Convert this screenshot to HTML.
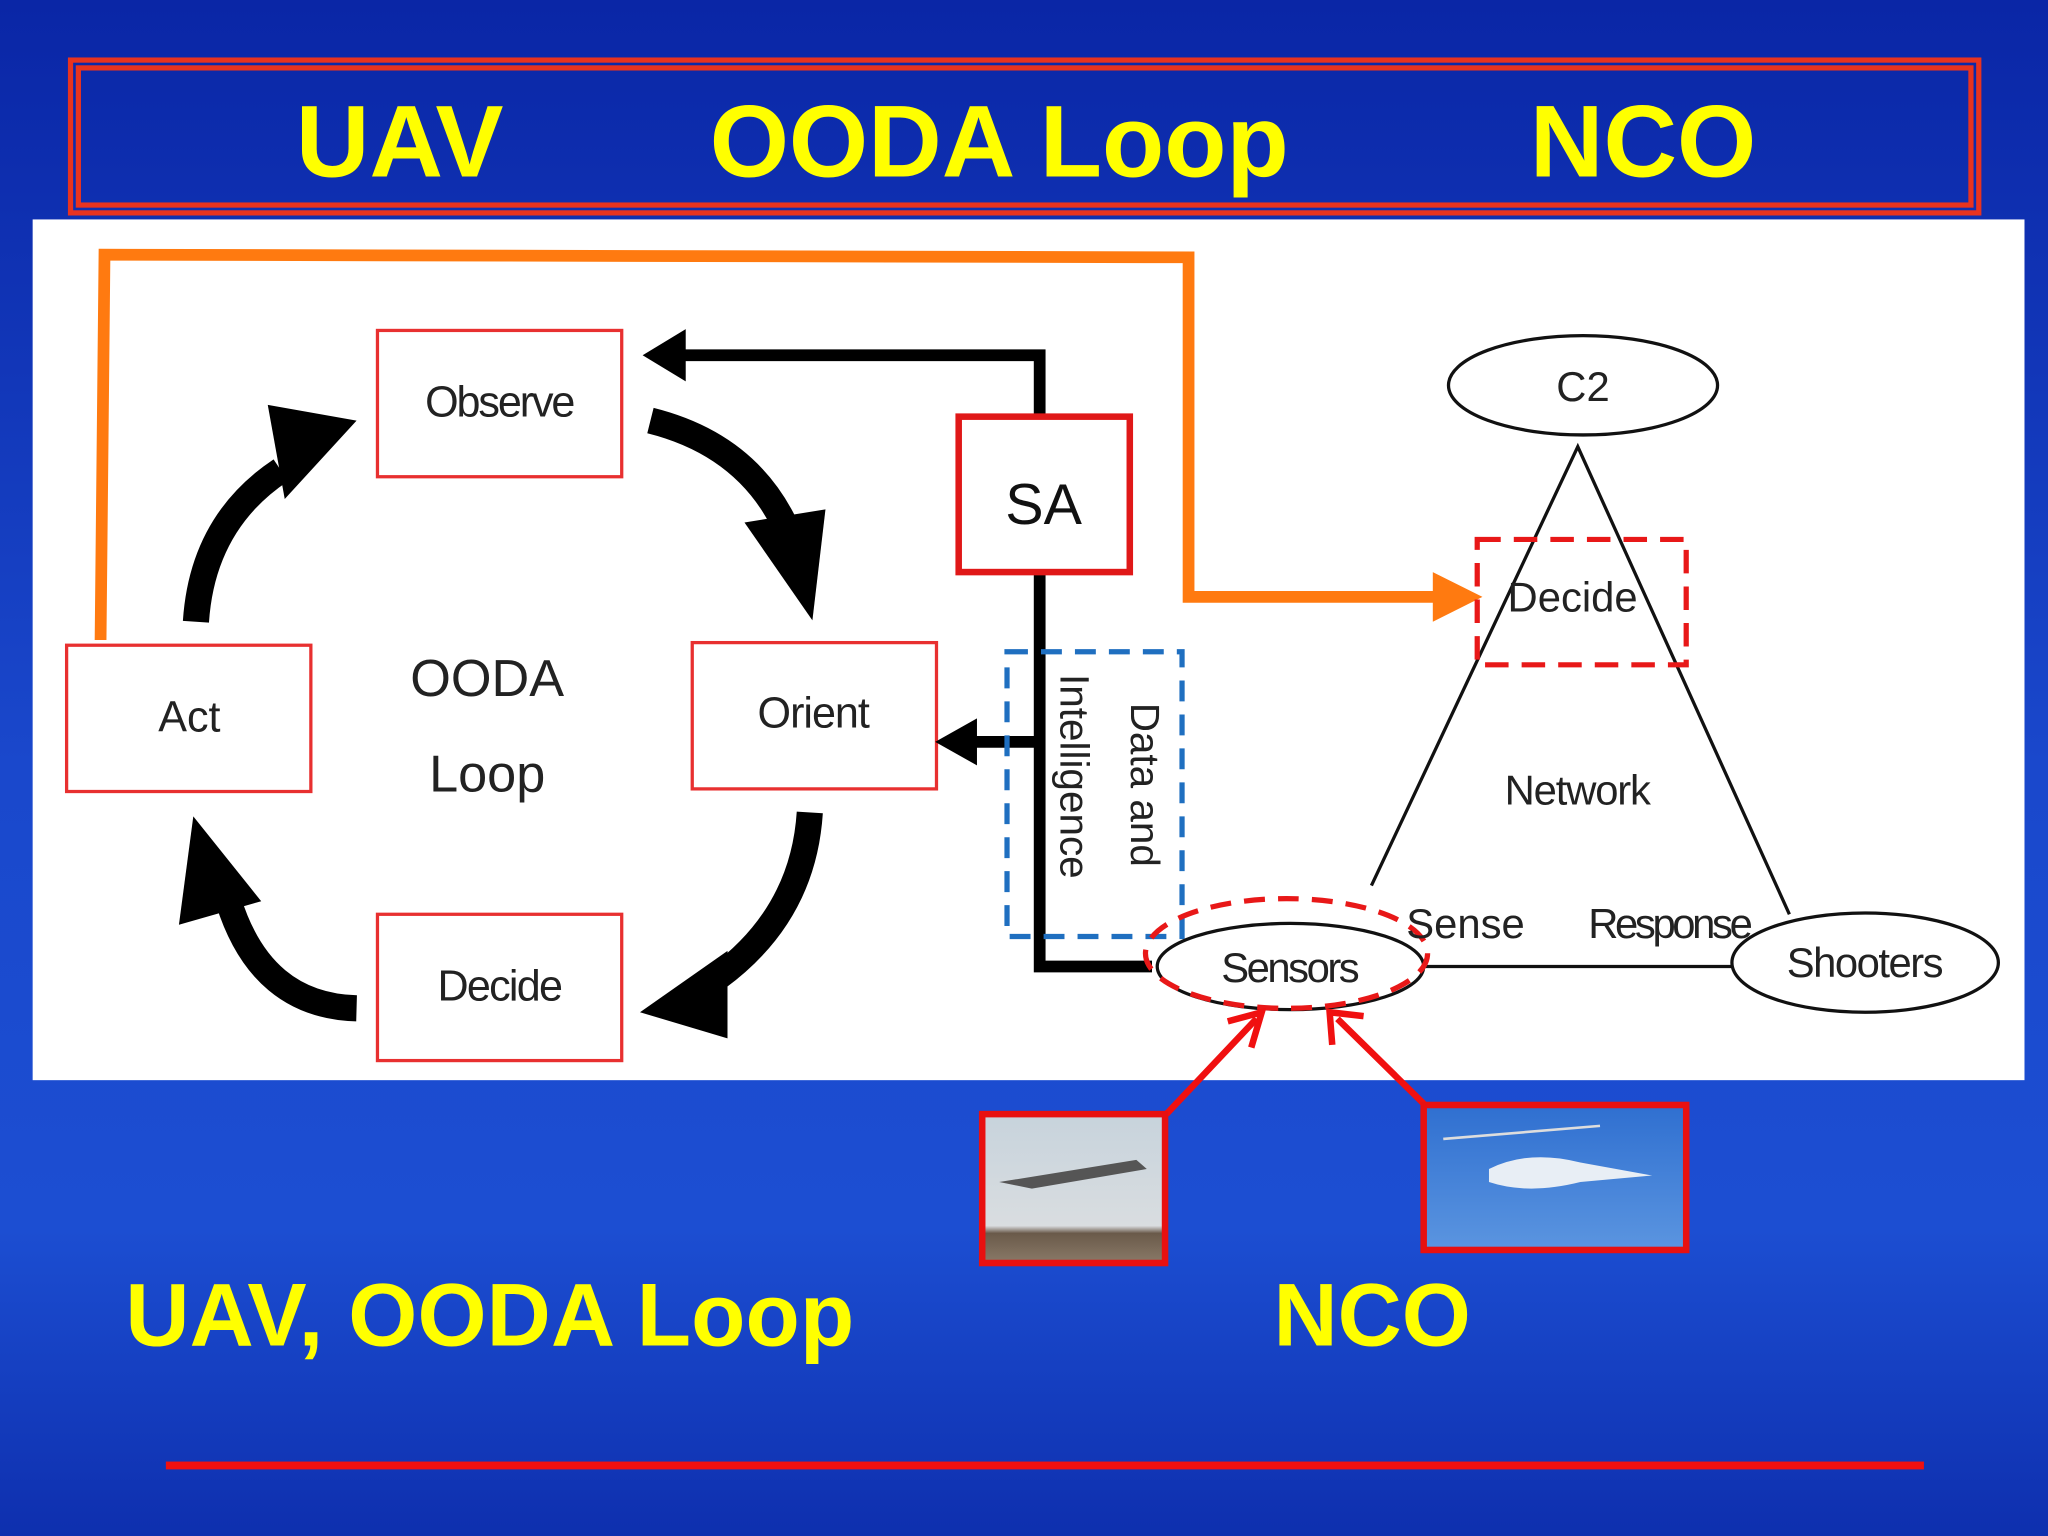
<!DOCTYPE html>
<html><head><meta charset="utf-8"><style>
html,body{margin:0;padding:0;width:2048px;height:1536px;overflow:hidden}
svg{display:block}
</style></head><body>
<svg width="2048" height="1536" viewBox="0 0 1568 1176" preserveAspectRatio="none" xmlns="http://www.w3.org/2000/svg">
<defs>
<linearGradient id="bg" x1="0" y1="0" x2="0" y2="1">
<stop offset="0" stop-color="#0a26a6"/><stop offset="0.5" stop-color="#1a48cc"/><stop offset="0.8" stop-color="#1c4ed2"/><stop offset="1" stop-color="#0e2fae"/>
</linearGradient>
<linearGradient id="sky1" x1="0" y1="0" x2="0" y2="1"><stop offset="0" stop-color="#c7d3dc"/><stop offset="0.75" stop-color="#d9dde0"/><stop offset="0.8" stop-color="#6a5a4a"/><stop offset="1" stop-color="#8a7a68"/></linearGradient>
<linearGradient id="sky2" x1="0" y1="0" x2="0" y2="1"><stop offset="0" stop-color="#2f6fd0"/><stop offset="1" stop-color="#5b95e0"/></linearGradient>
</defs>
<rect width="1568" height="1176" fill="url(#bg)"/>
<rect x="54" y="46" width="1461" height="117" fill="none" stroke="#e8331f" stroke-width="4"/>
<rect x="60" y="52" width="1449" height="105" fill="none" stroke="#e8331f" stroke-width="4"/>
<g font-family="Liberation Sans, sans-serif" font-weight="bold" fill="#ffff00" font-size="78" text-anchor="middle">
<text x="306" y="135">UAV</text><text x="765" y="135">OODA Loop</text><text x="1258" y="135">NCO</text>
</g>
<rect x="25" y="168" width="1525" height="659" fill="#fff"/>
<g font-family="Liberation Sans, sans-serif" font-size="33" fill="#222" text-anchor="middle">
<rect x="289" y="253" width="187" height="112" fill="#fff" stroke="#e83030" stroke-width="2.5"/>
<text x="383" y="319" textLength="115">Observe</text>
<rect x="51" y="494" width="187" height="112" fill="#fff" stroke="#e83030" stroke-width="2.5"/>
<text x="145" y="560">Act</text>
<rect x="530" y="492" width="187" height="112" fill="#fff" stroke="#e83030" stroke-width="2.5"/>
<text x="623" y="557" textLength="86">Orient</text>
<rect x="289" y="700" width="187" height="112" fill="#fff" stroke="#e83030" stroke-width="2.5"/>
<text x="383" y="766" textLength="96">Decide</text>
<text x="373" y="533" font-size="40">OODA</text>
<text x="373" y="606" font-size="40">Loop</text>
</g>
<g fill="none" stroke="#000" stroke-width="20">
<path d="M150 476 Q155 400 215 360"/>
<path d="M498 322 Q570 340 600 400"/>
<path d="M620 622 Q615 700 550 748"/>
<path d="M273 772 Q200 770 175 690"/>
</g>
<g fill="#000">
<polygon points="205,310 273,322 218,382"/>
<polygon points="570,400 632,390 622,475"/>
<polygon points="490,775 557,728 557,795"/>
<polygon points="148,625 200,690 137,708"/>
</g>
<g stroke="#000" stroke-width="9" fill="none">
<polyline points="796,320 796,272 520,272"/>
<polyline points="796,438 796,740 882,740"/>
<line x1="796" y1="568" x2="745" y2="568"/>
</g>
<polygon points="492,272 525,252 525,292" fill="#000"/>
<polygon points="716,568 748,550 748,586" fill="#000"/>
<rect x="734" y="319" width="131" height="119" fill="#fff" stroke="#e01818" stroke-width="5"/>
<text x="799" y="401" font-family="Liberation Sans, sans-serif" font-size="44" text-anchor="middle" fill="#111">SA</text>
<rect x="771" y="499" width="134" height="218" fill="none" stroke="#1f6fc0" stroke-width="4" stroke-dasharray="16,10"/>
<g font-family="Liberation Sans, sans-serif" font-size="31" fill="#222">
<text transform="translate(866,538) rotate(90)">Data and</text>
<text transform="translate(812,516) rotate(90)">Intelligence</text>
</g>
<polyline points="77,490 80,195 910,197 910,457 1100,457" fill="none" stroke="#ff7a10" stroke-width="9"/>
<polygon points="1135,457 1097,438 1097,476" fill="#ff7a10"/>
<g stroke="#111" stroke-width="2.5" fill="none">
<polyline points="1050,678 1208,342 1370,700"/>
<line x1="1090" y1="740" x2="1330" y2="740"/>
</g>
<ellipse cx="1212" cy="295" rx="103" ry="38" fill="#fff" stroke="#111" stroke-width="2.5"/>
<rect x="1131" y="413" width="160" height="96" fill="none" stroke="#e81818" stroke-width="4" stroke-dasharray="18,10"/>
<ellipse cx="988" cy="740" rx="102" ry="33" fill="#fff" stroke="#111" stroke-width="2.5"/>
<ellipse cx="985" cy="730" rx="108" ry="42" fill="none" stroke="#e81818" stroke-width="4" stroke-dasharray="16,10"/>
<ellipse cx="1428" cy="737" rx="102" ry="38" fill="#fff" stroke="#111" stroke-width="2.5"/>
<g font-family="Liberation Sans, sans-serif" font-size="32" fill="#222" text-anchor="middle">
<text x="1212" y="307">C2</text>
<text x="1204" y="468">Decide</text>
<text x="1208" y="616" textLength="112">Network</text>
<text x="1122" y="718">Sense</text>
<text x="1279" y="718" textLength="126">Response</text>
<text x="988" y="752" textLength="106">Sensors</text>
<text x="1428" y="748" textLength="120">Shooters</text>
</g>
<g stroke="#f01010" stroke-width="5" fill="none">
<line x1="893" y1="853" x2="962" y2="780"/>
<line x1="1090" y1="845" x2="1024" y2="780"/>
<polyline points="940,782 966,775 958,802"/>
<polyline points="1020,800 1018,775 1044,778"/>
</g>
<rect x="752" y="853" width="140" height="114" fill="url(#sky1)" stroke="#e81010" stroke-width="5"/>
<path d="M765 905 L870 888 L878 895 L790 910 Z" fill="#555"/>
<rect x="1090" y="846" width="201" height="111" fill="url(#sky2)" stroke="#e81010" stroke-width="5"/>
<path d="M1140 895 Q1170 880 1210 890 L1265 900 L1210 905 Q1170 915 1140 905 Z" fill="#e8eef5"/>
<line x1="1105" y1="872" x2="1225" y2="862" stroke="#ddd" stroke-width="2"/>
<g font-family="Liberation Sans, sans-serif" font-weight="bold" fill="#ffff00" font-size="68">
<text x="96" y="1030" textLength="558">UAV, OODA Loop</text>
<text x="975" y="1030">NCO</text>
</g>
<rect x="127" y="1119" width="1346" height="6" fill="#f01010"/>
</svg>
</body></html>
